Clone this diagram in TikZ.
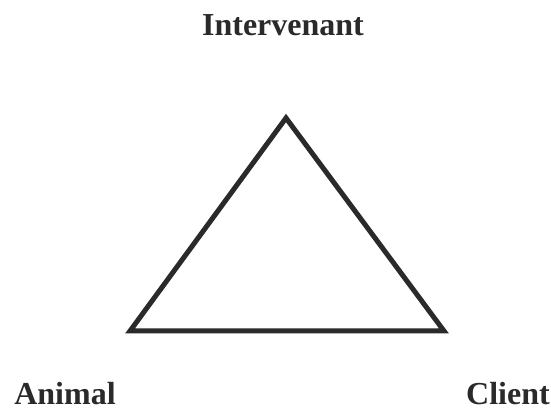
\documentclass[tikz,border=0pt]{standalone}
\usepackage{fontspec}
\setmainfont{Liberation Serif}
\usetikzlibrary{positioning}
\definecolor{ctrait}{HTML}{2A2A2A}
\tikzset{
  etiq/.style={font=\fontsize{16}{18}\selectfont\bfseries,text=ctrait,inner sep=0pt},
  trait/.style={draw=ctrait,line width=2.5pt,miter limit=10,line join=miter},
}

\begin{document}
\begin{tikzpicture}[x=0.5pt,y=-0.5pt]
\useasboundingbox (0,0) rectangle (551,410);

% ---------------- sommets du triangle ----------------
\coordinate (haut) at (286,118);
\coordinate (gauche) at (130,331);
\coordinate (droite) at (444,331);

\draw[trait] (haut) -- (gauche) -- (droite) -- cycle;

% ---------------- etiquettes ----------------
\node[etiq] (interv) at (283,25) {Intervenant};
\node[etiq] (animal) at (65,394) {Animal};
\node[etiq] (client) at (508,394) {Client};

\end{tikzpicture}
\end{document}
